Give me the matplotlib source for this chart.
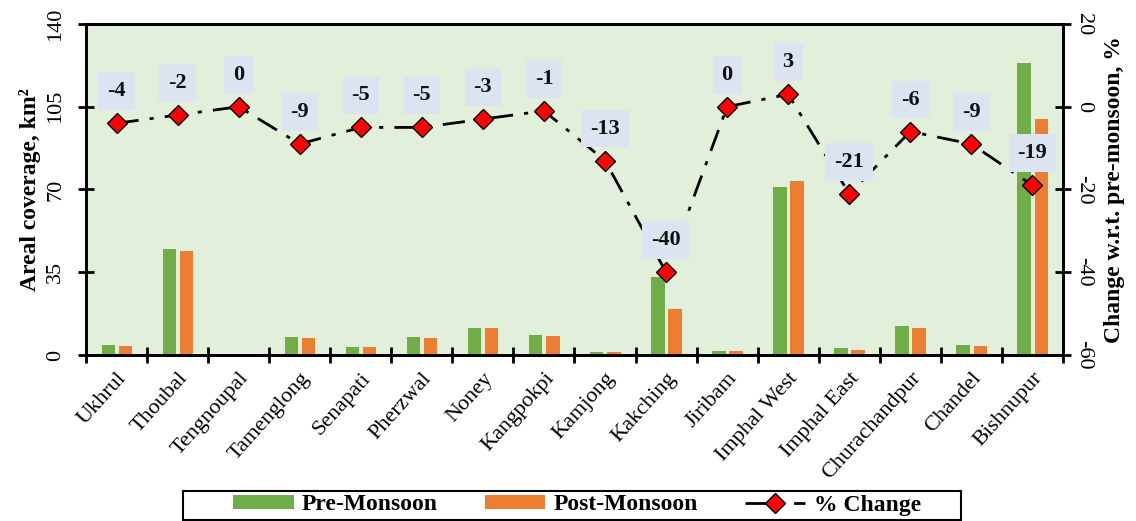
import matplotlib
matplotlib.use("Agg")
import matplotlib.pyplot as plt
import numpy as np
from matplotlib.ticker import FixedLocator
from matplotlib.patches import Rectangle

plt.rcParams['font.family'] = ['Liberation Serif', 'DejaVu Serif']
plt.rcParams['axes.unicode_minus'] = False

# data
distritos = ["Ukhrul", "Thoubal", "Tengnoupal", "Tamenglong", "Senapati", "Pherzwal",
             "Noney", "Kangpokpi", "Kamjong", "Kakching", "Jiribam", "Imphal West",
             "Imphal East", "Churachandpur", "Chandel", "Bishnupur"]
pre_monsoon = [4.2, 44.7, 0, 7.7, 3.4, 7.6, 11.6, 8.3, 1.3, 33.1, 1.7, 71.2, 2.8, 12.4, 4.2, 123.5]
post_monsoon = [4.0, 44.0, 0, 7.0, 3.3, 7.2, 11.3, 8.2, 1.1, 19.6, 1.6, 73.6, 2.3, 11.6, 3.9, 100.0]
variacao = [-4, -2, 0, -9, -5, -5, -3, -1, -13, -40, 0, 3, -21, -6, -9, -19]

verde = "#70ad47"
laranja = "#ed7d31"

W, H = 1136, 521
fig = plt.figure(figsize=(W / 100, H / 100), dpi=100)
ax = fig.add_axes([0.0757, 0.3186, 0.86, 0.6354])
ax.set_facecolor("#e2efda")
ax2 = ax.twinx()

x = np.arange(len(distritos))
larg = 0.22
b1 = ax.bar(x - 0.135, pre_monsoon, larg, color=verde, label="Pre-Monsoon")
b2 = ax.bar(x + 0.145, post_monsoon, larg, color=laranja, label="Post-Monsoon")

linha, = ax2.plot(x, variacao, color="black", lw=2, linestyle=(0, (8, 4, 1.5, 4)),
                  marker="D", markersize=10, markerfacecolor="red", markeredgecolor="black",
                  markeredgewidth=1, label="% Change", zorder=5)

for xi, v in zip(x, variacao):
    ax2.annotate(str(v), (xi, v), xytext=(0, 32), textcoords="offset pixels",
                 ha="center", va="center", fontsize=16, fontweight="bold", color="#111111",
                 bbox=dict(boxstyle="square,pad=0.4", facecolor="#dce3f1", edgecolor="none"),
                 zorder=6)

ax.set_xlim(-0.5, len(distritos) - 0.5)
ax.set_ylim(0, 140)
ax.set_yticks([0, 35, 70, 105, 140])
ax2.set_ylim(-60, 20)
ax2.set_yticks([-60, -40, -20, 0, 20])

ax.set_xticks(x)
ax.set_xticklabels(distritos, rotation=48, ha="right", rotation_mode="anchor", fontsize=16)
ax.xaxis.set_minor_locator(FixedLocator(np.arange(-0.5, len(distritos), 1.0)))
ax.tick_params(axis="x", which="major", length=0, pad=10)
ax.tick_params(axis="x", which="minor", direction="inout", length=12, width=2)
ax.tick_params(axis="y", direction="inout", length=12, width=2, labelsize=16, labelrotation=90, pad=9)
ax2.tick_params(axis="y", direction="inout", length=12, width=2, labelsize=16, labelrotation=-90, pad=2)
for lab in ax.get_yticklabels():
    lab.set_va("center")
for lab in ax2.get_yticklabels():
    lab.set_va("center")

for a in (ax, ax2):
    for s in a.spines.values():
        s.set_linewidth(2)

ax.set_ylabel("Areal coverage, km²", fontsize=17, fontweight="bold", labelpad=4)
ax2.set_ylabel("Change w.r.t. pre-monsoon, %", fontsize=17, fontweight="bold", rotation=90, labelpad=8)

# legend without its own frame, box drawn separately
leg = fig.legend([b1, b2, linha], ["Pre-Monsoon", "Post-Monsoon", "% Change"],
                 loc="center", bbox_to_anchor=(577 / W, 1 - 505 / H), ncol=3, frameon=False,
                 prop={"weight": "bold", "size": 17}, handlelength=2.55,
                 columnspacing=2.0, borderpad=0.1, handleheight=0.5, handletextpad=0.35)
fig.patches.append(Rectangle((183 / W, 1 - 520 / H), (961 - 183) / W, 29 / H,
                             transform=fig.transFigure, fill=False, edgecolor="black", lw=1.5))

fig.savefig("out.png", dpi=100)
